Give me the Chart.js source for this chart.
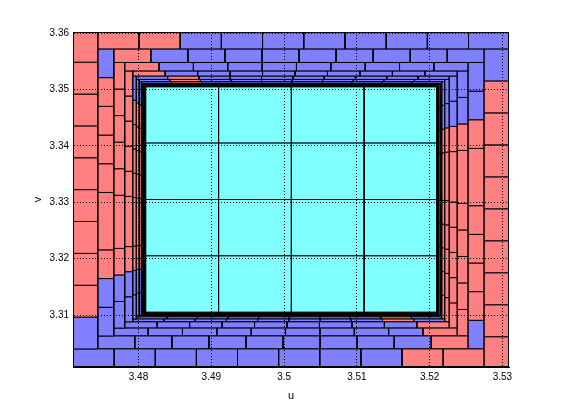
<!DOCTYPE html>
<html>
<head>
<meta charset="utf-8">
<script src="https://cdn.jsdelivr.net/npm/chart.js@4.4.1/dist/chart.umd.min.js"></script>
<style>
html, body { margin: 0; padding: 0; background: #fff; }
</style>
</head>
<body>
<canvas id="thisChart" width="561" height="412"></canvas>
<script>
// ring edges, outermost first, the last one is the edge of the cyan block
const ringLeft   = [3.4710, 3.4744, 3.4766, 3.4781, 3.4792, 3.4797, 3.4801, 3.4804, 3.4806, 3.4807, 3.48082, 3.48090, 3.4810]
const ringRight  = [3.5310, 3.5275, 3.5253, 3.5238, 3.5227, 3.5221, 3.5217, 3.5215, 3.5213, 3.5212, 3.52113, 3.52106, 3.5210]
const ringTop    = [3.3605, 3.3572, 3.3548, 3.3533, 3.3524, 3.3518, 3.3514, 3.3511, 3.3509, 3.35076, 3.35067, 3.35058, 3.3505]
const ringBottom = [3.3005, 3.3040, 3.3063, 3.3077, 3.3088, 3.3093, 3.3097, 3.3099, 3.31012, 3.31025, 3.31034, 3.31042, 3.3105]

// one token per box, token length = tenths of the strip it covers
// left: top->bottom, top: left->right, right: top->bottom, bottom: left->right
const leftBoxes = [
  'r r r r r r r r r b',
  'b r r r r rr r b b',
  'r r r r r rr r b b',
  'r r r r r rr r b b',
  'b r r r r rr r b b',
  'b r r r r rr r b b',
  'b r r r r rr r b b',
  'b r r r r rr r b b',
  'b r r r r rr r b b',
  'b r r r r rr r b b',
  'b r r r r rr r b b',
  'b r r r r rr r b b'
]
const topBoxes = [
  'r r b b b b b b b b',
  'r b b b b b b b b b',
  'r b b b b b b b b b',
  'r b b b b b b b b b',
  'b r b b b b b b b b',
  'b r b b b b b b b b',
  'b r b b b b b b b b',
  'b r b b b b b b b b',
  'b r b b b b b b b b',
  'b r b b b b b b b b',
  'b r b b b b b b b b',
  'b r b b b b b b b b'
]
const rightBoxes = [
  'b r r r r r r r r r',
  'b b r rr r r r r b',
  'b b r rr r r r r r',
  'b b r rr r r r r r',
  'b b r rr r r r r r',
  'b b r rr r r r r r',
  'b b r rr r r r r r',
  'b b r rr r r r r r',
  'b b r rr r r r r r',
  'b b r rr r r r r r',
  'b b r rr r r r r r',
  'b b r rr r r r r r'
]
const bottomBoxes = [
  'b b b b b b b b r r',
  'b b b b b b b b b r',
  'b b b b b b b b b r',
  'b b b b b b b b b r',
  'b b b b b b b b r b',
  'b b b b b b b b r b',
  'b b b b b b b b r b',
  'b b b b b b b b r b',
  'b b b b b b b b r b',
  'b b b b b b b b r b',
  'b b b b b b b b r b',
  'b b b b b b b b r b'
]

// the 4x4 cyan block in the middle
const coreX = [3.481, 3.491, 3.501, 3.511, 3.521]
const coreY = [3.3105, 3.3205, 3.3305, 3.3405, 3.3505]

const xTicks = [3.48, 3.49, 3.5, 3.51, 3.52, 3.53]
const xTickLabels = ['3.48', '3.49', '3.5', '3.51', '3.52', '3.53']
const yTicks = [3.31, 3.32, 3.33, 3.34, 3.35, 3.36]
const yTickLabels = ['3.31', '3.32', '3.33', '3.34', '3.35', '3.36']

const colours = { r: '#ff8080', b: '#8080ff', c: '#80ffff' }

let datasets = []

function box(x0, x1, y0, y1, c) {
  datasets.push({
    data: [{x: x0, y: y0}, {x: x0, y: y1}, {x: x1, y: y1}, {x: x1, y: y0}, {x: x0, y: y0}],
    showLine: true,
    fill: 'shape',
    backgroundColor: colours[c],
    borderColor: '#000',
    borderWidth: 1,
    pointRadius: 0,
    tension: 0,
    clip: 0
  })
}

// cuts a strip from a to b into its boxes, calls put(from, to, colour)
function strip(spec, a, b, put) {
  let u = 0
  spec.split(' ').forEach(tok => {
    put(a + (b - a) * u / 10, a + (b - a) * (u + tok.length) / 10, tok[0])
    u += tok.length
  })
}

for (let i = 0; i < leftBoxes.length; i++) {
  const L0 = ringLeft[i], L1 = ringLeft[i + 1]
  const R0 = ringRight[i], R1 = ringRight[i + 1]
  const T0 = ringTop[i], T1 = ringTop[i + 1]
  const B0 = ringBottom[i], B1 = ringBottom[i + 1]
  strip(leftBoxes[i], T0, B1, (p, q, c) => box(L0, L1, q, p, c))
  strip(topBoxes[i], L1, R0, (p, q, c) => box(p, q, T1, T0, c))
  strip(rightBoxes[i], T1, B0, (p, q, c) => box(R1, R0, q, p, c))
  strip(bottomBoxes[i], L0, R1, (p, q, c) => box(p, q, B0, B1, c))
}

for (let i = 0; i < 4; i++) {
  for (let j = 0; j < 4; j++) {
    box(coreX[i], coreX[i + 1], coreY[j], coreY[j + 1], 'c')
  }
}

const frame = {
  id: 'frame',
  afterDraw(chart) {
    const {ctx, chartArea: a} = chart
    ctx.save()
    ctx.strokeStyle = '#000'
    ctx.lineWidth = 1
    ctx.strokeRect(a.left + 0.5, a.top + 0.5, a.right - a.left - 1, a.bottom - a.top - 1)
    ctx.restore()
  }
}

const tickFont = { family: 'Liberation Sans', size: 10 }

const config = {
  type: 'scatter',
  data: { datasets },
  plugins: [frame],
  options: {
    responsive: false,
    animation: false,
    devicePixelRatio: 1,
    layout: { padding: { left: 0, top: 32, right: 52, bottom: 0 } },
    plugins: { legend: { display: false }, tooltip: { enabled: false } },
    scales: {
      x: {
        type: 'linear',
        min: 3.4710,
        max: 3.5309,
        afterBuildTicks: s => { s.ticks = xTicks.map(v => ({ value: v })) },
        afterFit: s => { s.height = 45 },
        ticks: {
          color: '#000',
          font: tickFont,
          padding: 4,
          maxRotation: 0,
          callback: (v, i) => xTickLabels[i]
        },
        grid: { color: '#000', lineWidth: 1, drawTicks: false, z: 1 },
        border: { display: true, color: '#000', width: 1, dash: [1, 2], z: 2 },
        title: { display: true, text: 'u', color: '#000', font: { family: 'Liberation Sans', size: 11 }, padding: { top: 0, bottom: 9 } }
      },
      y: {
        type: 'linear',
        min: 3.3008,
        max: 3.3602,
        afterBuildTicks: s => { s.ticks = yTicks.map(v => ({ value: v })) },
        afterFit: s => { s.width = 73 },
        ticks: {
          color: '#000',
          font: tickFont,
          padding: 4,
          callback: (v, i) => yTickLabels[i]
        },
        grid: { color: '#000', lineWidth: 1, drawTicks: false, z: 1 },
        border: { display: true, color: '#000', width: 1, dash: [1, 2], z: 2 },
        title: { display: true, text: 'v', color: '#000', font: { family: 'Liberation Sans', size: 11 }, padding: { top: 31, bottom: 0 } }
      }
    }
  }
}

const chart = new Chart(document.getElementById('thisChart').getContext('2d'), config)
</script>
</body>
</html>
